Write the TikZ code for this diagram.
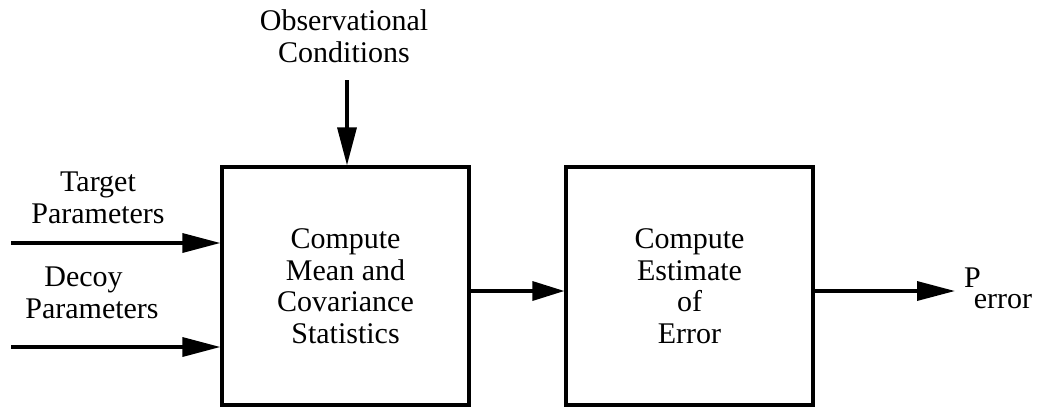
\documentclass[tikz,border=0pt]{standalone}
\usepackage{fontspec}
\setmainfont{Liberation Serif}
\newfontfamily\tnr{Liberation Serif}
\usetikzlibrary{arrows.meta}
\begin{document}
\begin{tikzpicture}[x=1pt,y=-1pt,
  lbl/.style={font=\tnr\fontsize{30}{32}\selectfont, align=center, inner sep=0pt},
  blockbox/.style={draw, line width=3.2pt, minimum width=247pt, minimum height=238pt, inner sep=0pt,
    font=\tnr\fontsize{30}{31.5}\selectfont, align=center},
  flow/.style={line width=3.4pt, -{Triangle[length=38pt,width=19pt]}}]
\useasboundingbox (0,0) rectangle (1041,408);
\node[blockbox] (b1) at (345.5,286) {Compute\\Mean and\\Covariance\\Statistics};
\node[blockbox] (b2) at (689.5,286) {Compute\\Estimate\\of\\Error};
\node[lbl] (obs) at (344,36.5) {Observational\\Conditions};
\node[lbl] (tgt) at (98,197.5) {Target\\Parameters};
\node[lbl] (dec) at (92,293) {Decoy\kern17pt\\Parameters};
\node[font=\tnr\fontsize{30}{32}\selectfont, inner sep=0pt, anchor=base west] (perr) at (964,287) {P\kern-7pt\raisebox{-21pt}{error}};
\coordinate (obsin) at (347,80);
\coordinate (tin) at (11,243);
\coordinate (din) at (11,347);
\coordinate (pout) at (955,291);
\draw[flow] (obsin) -- (obsin |- b1.north);
\draw[flow] (tin) -- (tin -| b1.west);
\draw[flow] (din) -- (din -| b1.west);
\draw[line width=3.4pt, -{Triangle[length=32pt,width=19pt]}] ([yshift=-5pt]b1.east) -- ([yshift=-5pt]b2.west);
\draw[flow] (pout -| b2.east) -- (pout);
\end{tikzpicture}
\end{document}
